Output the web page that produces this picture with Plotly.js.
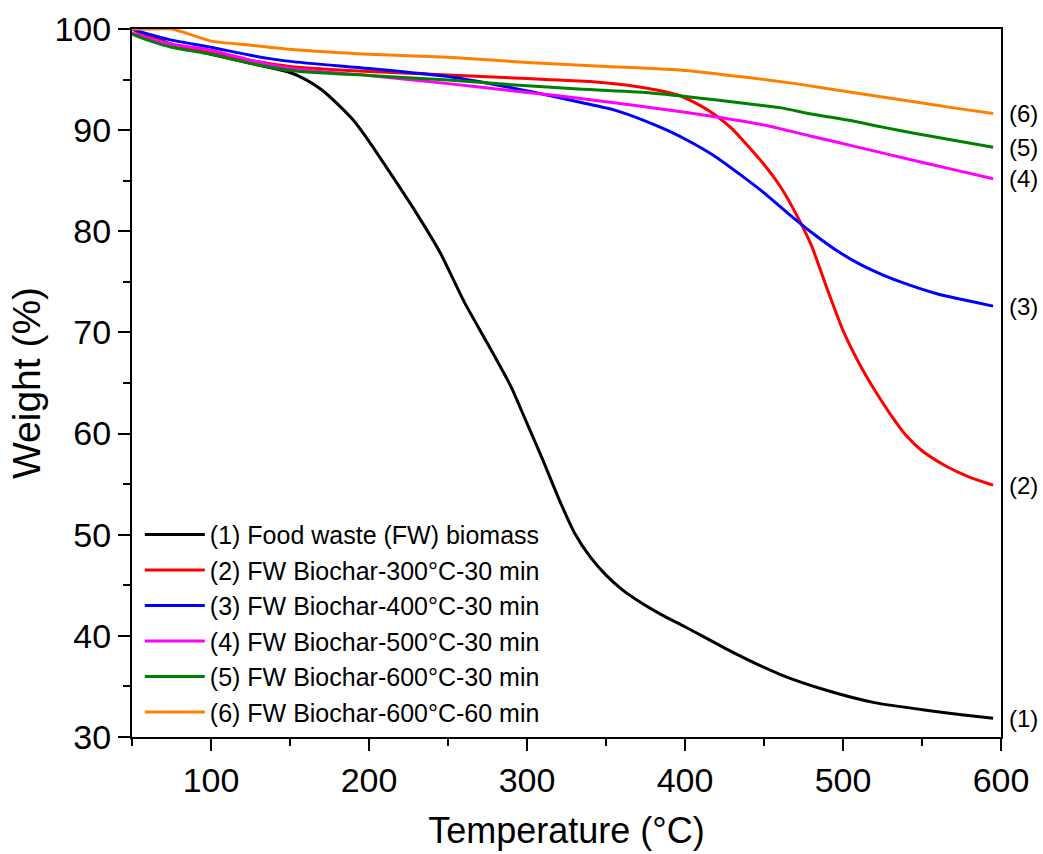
<!DOCTYPE html>
<html>
<head>
<meta charset="utf-8">
<script src="https://cdn.plot.ly/plotly-3.0.1.min.js"></script>
<style>
html,body{margin:0;padding:0;background:#fff;}
#chart{width:1043px;height:854px;}
</style>
</head>
<body>
<div id="chart"></div>
<script>
// ---- Data ----
const seriesNames = [
  "(1) Food waste (FW) biomass",
  "(2) FW Biochar-300°C-30 min",
  "(3) FW Biochar-400°C-30 min",
  "(4) FW Biochar-500°C-30 min",
  "(5) FW Biochar-600°C-30 min",
  "(6) FW Biochar-600°C-60 min"
];
const endLabels = ["(1)", "(2)", "(3)", "(4)", "(5)", "(6)"];

const tempFW = [50, 60, 75, 100, 125, 150, 160, 170, 180, 190, 200, 215, 230, 245, 260, 275, 290, 300, 310, 320, 330, 340, 350, 360, 370, 385, 400, 430, 460, 490, 520, 555, 575, 595];
const weightFW = [100, 99.4, 98.5, 97.5, 96.6, 95.7, 95.0, 94.0, 92.6, 91.0, 88.9, 85.4, 81.8, 77.9, 73.1, 68.9, 64.6, 61.0, 57.4, 53.6, 50.2, 47.8, 46.0, 44.6, 43.5, 42.1, 40.9, 38.4, 36.2, 34.6, 33.4, 32.6, 32.2, 31.85];

const temp300 = [50, 60, 75, 100, 125, 150, 200, 250, 300, 340, 370, 395, 410, 420, 430, 440, 450, 460, 470, 480, 490, 500, 510, 520, 530, 540, 550, 565, 580, 595];
const weight300 = [100, 99.3, 98.5, 97.6, 96.9, 96.3, 95.8, 95.45, 95.1, 94.8, 94.3, 93.5, 92.4, 91.4, 90.1, 88.4, 86.6, 84.5, 81.8, 78.6, 74.3, 70.2, 67.0, 64.3, 61.9, 59.8, 58.3, 56.8, 55.7, 54.9];

const temp400 = [50, 60, 75, 100, 125, 150, 200, 250, 290, 315, 335, 355, 375, 390, 405, 420, 435, 450, 465, 480, 495, 510, 525, 540, 560, 580, 595];
const weight400 = [100, 99.5, 98.9, 98.2, 97.4, 96.8, 96.1, 95.3, 94.2, 93.4, 92.7, 92.0, 90.9, 89.9, 88.7, 87.3, 85.6, 83.8, 81.8, 79.9, 78.2, 76.8, 75.7, 74.8, 73.8, 73.1, 72.6];

const temp500 = [50, 60, 75, 100, 125, 150, 200, 250, 290, 320, 350, 380, 420, 450, 480, 510, 545, 570, 595];
const weight500 = [99.6, 99.1, 98.5, 97.9, 96.9, 96.1, 95.4, 94.6, 93.9, 93.4, 92.8, 92.2, 91.3, 90.5, 89.4, 88.3, 87.0, 86.1, 85.2];

const temp600 = [50, 60, 75, 100, 125, 150, 200, 250, 290, 330, 377, 419, 440, 461, 480, 503, 525, 545, 570, 595];
const weight600 = [99.5, 98.9, 98.2, 97.5, 96.6, 95.9, 95.4, 94.95, 94.5, 94.1, 93.7, 93.0, 92.6, 92.2, 91.6, 91.0, 90.3, 89.7, 89.0, 88.3];

const temp600_60 = [50, 60, 75, 90, 100, 125, 150, 200, 250, 300, 350, 400, 440, 470, 503, 545, 570, 595];
const weight600_60 = [100, 100, 100, 99.3, 98.8, 98.4, 98.0, 97.5, 97.2, 96.7, 96.3, 95.9, 95.2, 94.6, 93.8, 92.8, 92.2, 91.65];

const xTickVals = [100, 200, 300, 400, 500, 600];
const yTickVals = [30, 40, 50, 60, 70, 80, 90, 100];

// ---- Styling ----
const colors = ["#000000", "#ff0000", "#0000ff", "#ff00ff", "#008000", "#ff8000"];
const xs = [tempFW, temp300, temp400, temp500, temp600, temp600_60];
const ys = [weightFW, weight300, weight400, weight500, weight600, weight600_60];
const FONT = "Arial, 'Liberation Sans', sans-serif";

const traces = xs.map((x, i) => ({
  x: x, y: ys[i], type: "scatter", mode: "lines",
  name: seriesNames[i],
  line: {color: colors[i], width: 3, shape: "spline", smoothing: 0.6}
}));

const annotations = xs.map((x, i) => ({
  xref: "paper", yref: "y", x: 1, y: ys[i][ys[i].length - 1],
  xanchor: "left", yanchor: "middle", xshift: 6,
  text: endLabels[i], showarrow: false,
  font: {family: FONT, size: 24, color: "#000"}
}));

const axisCommon = {
  showline: true, linecolor: "#000", linewidth: 2, mirror: true,
  ticks: "outside", ticklen: 12, tickwidth: 2, tickcolor: "#000",
  showgrid: false, zeroline: false,
  tickfont: {family: FONT, size: 34, color: "#000"}
};

const layout = {
  width: 1043, height: 854,
  margin: {l: 132, r: 42, t: 29, b: 117},
  paper_bgcolor: "#fff", plot_bgcolor: "#fff",
  showlegend: true,
  font: {family: FONT, color: "#000"},
  xaxis: Object.assign({}, axisCommon, {
    range: [50, 600], tickvals: xTickVals,
    minor: {dtick: 50, tick0: 0, ticks: "outside", ticklen: 7, tickwidth: 2, tickcolor: "#000", showgrid: false},
    title: {text: "Temperature (°C)", font: {family: FONT, size: 36, color: "#000"}, standoff: 20}
  }),
  yaxis: Object.assign({}, axisCommon, {
    range: [30, 100], tickvals: yTickVals,
    minor: {dtick: 5, tick0: 0, ticks: "outside", ticklen: 7, tickwidth: 2, tickcolor: "#000", showgrid: false},
    title: {text: "Weight (%)", font: {family: FONT, size: 39, color: "#000"}, standoff: 2}
  }),
  legend: {
    x: 0.009, y: 0.318, xanchor: "left", yanchor: "top",
    bgcolor: "rgba(0,0,0,0)", borderwidth: 0,
    font: {family: FONT, size: 25, color: "#000"},
    itemwidth: 60, tracegroupgap: 0
  },
  annotations: annotations
};

Plotly.newPlot("chart", traces, layout, {displayModeBar: false, staticPlot: true});
</script>
</body>
</html>
